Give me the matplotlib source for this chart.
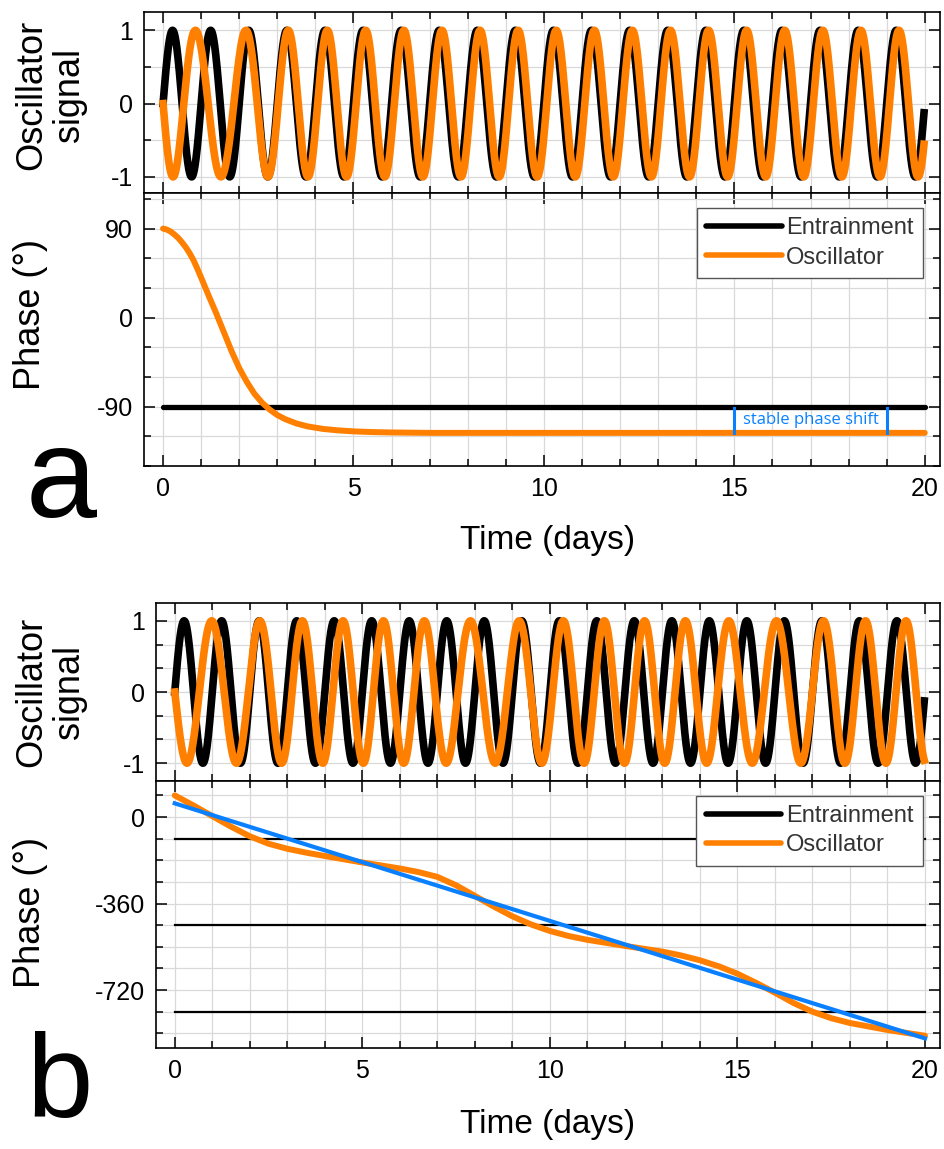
import numpy as np
import matplotlib
matplotlib.use('Agg')
import matplotlib.pyplot as plt
from matplotlib.ticker import MultipleLocator
from matplotlib.lines import Line2D

plt.rcParams['font.family'] = ['Liberation Sans', 'DejaVu Sans']
plt.rcParams['axes.unicode_minus'] = False

ORANGE = '#ff7f00'
BLUE = '#0a80ff'
GRID = '#d9d9d9'

#Entrainment signal: one cycle per day, fixed phase
ent_period = 1.0
ent_phase = -90

#Panel a: oscillator phase (degrees)
t_a = [0, 0.1, 0.2, 0.3, 0.4, 0.5, 0.6, 0.7, 0.8, 0.9, 1.0, 1.2, 1.4, 1.6, 1.8,
       2.0, 2.2, 2.4, 2.6, 2.8, 3.0, 3.2, 3.5, 3.8, 4.2, 4.6, 5.0, 5.5, 6.0, 7.0,
       10, 15, 20]
phase_a = [90, 89, 87, 84, 80.5, 76, 71, 65, 58, 49.5, 40.5, 22, 4, -15, -34,
           -51, -65, -77, -86, -93, -98.5, -102.5, -107, -110, -112.5, -114, -115,
           -115.7, -116.1, -116.5, -116.5, -116.5, -116.5]
shift_marks = [15, 19]

#Panel b: oscillator phase (degrees)
t_b = [0, 0.5, 1, 1.5, 2, 2.5, 3, 3.5, 4, 5, 6, 6.5, 7, 7.5, 8, 8.5, 9, 9.5, 10,
       10.5, 11, 12, 13, 13.5, 14, 14.5, 15, 15.5, 16, 16.5, 17, 17.5, 18, 19, 20]
phase_b = [90, 48, 4, -40, -80, -111, -132, -148, -162, -189, -214, -229, -249,
           -284, -328, -372, -413, -447, -474, -495, -511, -536, -560, -576, -596,
           -621, -652, -690, -731, -774, -810, -837, -857, -886, -910]
ent_lines_b = [-90, -450, -810]
fit_t_b = [0, 20]
fit_phase_b = [57, -921]

t = np.linspace(0, 19.98, 4001)
ent_sig = np.cos(2 * np.pi * t / ent_period + np.radians(ent_phase))
osc_sig_a = np.cos(2 * np.pi * t / ent_period + np.radians(np.interp(t, t_a, phase_a)))
osc_sig_b = np.cos(2 * np.pi * t / ent_period + np.radians(np.interp(t, t_b, phase_b)))

W, H = 944, 1149
fig = plt.figure(figsize=(W / 100, H / 100), dpi=100)

def box(l, r, top, bot):
    return [l / W, 1 - bot / H, (r - l) / W, (bot - top) / H]

def style(ax, ylo, yhi, ymaj, ymin, xlabels):
    ax.set_xlim(-0.5, 20.4)
    ax.set_ylim(ylo, yhi)
    ax.xaxis.set_major_locator(MultipleLocator(5))
    ax.xaxis.set_minor_locator(MultipleLocator(1))
    ax.yaxis.set_major_locator(MultipleLocator(ymaj))
    ax.yaxis.set_minor_locator(MultipleLocator(ymin))
    ax.tick_params(which='both', direction='in', top=True, right=True, width=1.1, colors='black')
    ax.tick_params(which='major', length=8, labelsize=18, pad=8)
    ax.tick_params(which='minor', length=5)
    if not xlabels:
        ax.tick_params(labelbottom=False)
    ax.grid(True, which='both', color=GRID, lw=0.9)
    ax.set_axisbelow(True)
    for s in ax.spines.values():
        s.set_linewidth(1.2)

def legend(ax, x, y):
    handles = [Line2D([], [], color='black', lw=4, solid_capstyle='round'),
               Line2D([], [], color=ORANGE, lw=4, solid_capstyle='round')]
    lg = ax.legend(handles, ['Entrainment', 'Oscillator'], loc='upper right',
                   bbox_to_anchor=(x, y), borderaxespad=0, fontsize=17, handlelength=3.2,
                   handletextpad=0.2, borderpad=0.4, labelspacing=0.3, fancybox=False,
                   framealpha=1, edgecolor='#555555')
    lg.get_frame().set_linewidth(1.0)
    for tx in lg.get_texts():
        tx.set_color('#333333')

#---- panel a ----
ax1 = fig.add_axes(box(144, 940, 12, 193))
ax1.plot(t, ent_sig, color='black', lw=5.5)
ax1.plot(t, osc_sig_a, color=ORANGE, lw=5.5)
style(ax1, -1.22, 1.25, 1, 0.5, False)

ax2 = fig.add_axes(box(144, 940, 193, 466))
ax2.plot([0, 20], [ent_phase, ent_phase], color='black', lw=3.8, solid_capstyle='round')
ax2.plot(t_a, phase_a, color=ORANGE, lw=4.3, solid_capstyle='round')
for m in shift_marks:
    ax2.plot([m, m], [-91, -117], color=BLUE, lw=2.2)
ax2.text(np.mean(shift_marks), -104, 'stable phase shift', color=BLUE, fontsize=12,
         family=['Open Sans', 'DejaVu Sans'], ha='center', va='center')
style(ax2, -150, 126, 90, 30, True)
legend(ax2, 0.979, 0.945)

#---- panel b ----
ax3 = fig.add_axes(box(156, 940, 603, 781))
ax3.plot(t, ent_sig, color='black', lw=5.5)
ax3.plot(t, osc_sig_b, color=ORANGE, lw=5.5)
style(ax3, -1.25, 1.25, 1, 1 / 3, False)

ax4 = fig.add_axes(box(156, 940, 781, 1048))
for yl in ent_lines_b:
    ax4.plot([0, 20], [yl, yl], color='black', lw=1.6)
ax4.plot(t_b, phase_b, color=ORANGE, lw=4.3, solid_capstyle='round')
ax4.plot(fit_t_b, fit_phase_b, color=BLUE, lw=3)
style(ax4, -961, 150, 360, 90, True)
legend(ax4, 0.978, 0.944)

#---- labels ----
for ycen in [95, 692]:
    fig.text(51 / W, 1 - ycen / H, 'Oscillator\nsignal', rotation=90, fontsize=26,
             ha='center', va='center', multialignment='center', linespacing=1.1)
for ycen in [314, 913]:
    fig.text(30 / W, 1 - ycen / H, 'Phase (°)', rotation=90, fontsize=26,
             ha='center', va='center')
for ycen in [540, 1125]:
    fig.text(548 / W, 1 - ycen / H, 'Time (days)', fontsize=24, ha='center', va='center')
fig.text(26 / W, 1 - 517 / H, 'a', fontsize=92, ha='left', va='baseline')
fig.text(26 / W, 1 - 1117 / H, 'b', fontsize=86, ha='left', va='baseline')

plt.savefig('out.png', dpi=100)
